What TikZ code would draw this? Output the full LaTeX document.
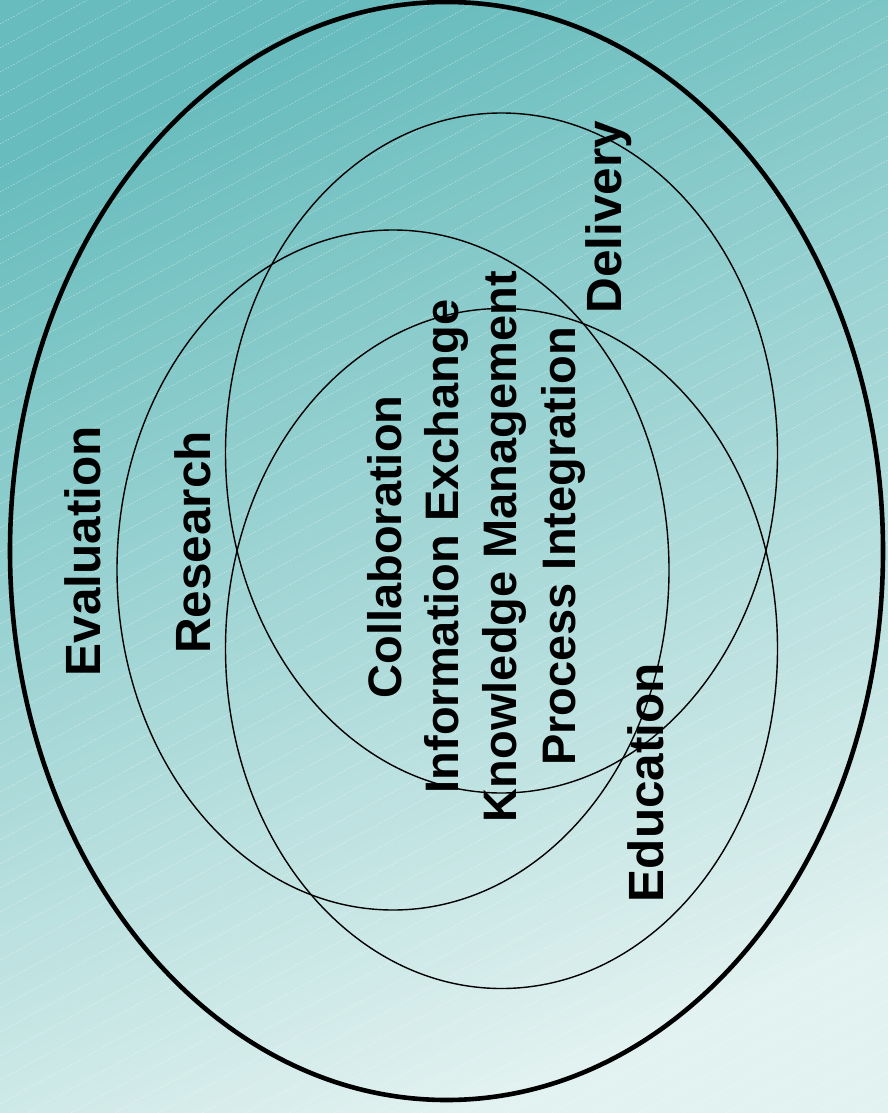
\documentclass[tikz,border=0pt]{standalone}
\usepackage{fontspec}
\setmainfont{Liberation Sans}
\usetikzlibrary{positioning}

\definecolor{tealtop}{RGB}{104,188,189}
\definecolor{tealbot}{RGB}{226,242,240}

\tikzset{
  ringthin/.style={draw=black, line width=1.4pt},
  ringthick/.style={draw=black, line width=4.6pt},
  stripe/.style={draw=white, opacity=0.45, line width=0.6pt, dash pattern=on 1.5pt off 1.5pt},
  sidelabel/.style={rotate=90, anchor=base, inner sep=0pt, font=\fontsize{49.5}{58}\selectfont\bfseries},
  corelabel/.style={rotate=90, anchor=base, inner sep=0pt, font=\fontsize{47}{56}\selectfont\bfseries},
}

\begin{document}
\begin{tikzpicture}[x=1pt, y=-1pt]
  \useasboundingbox (0,0) rectangle (888,1113);

  % background
  \shade[top color=tealtop, bottom color=tealbot, shading angle=22] (0,0) rectangle (888,1113);
  \begin{scope}
    \clip (0,0) rectangle (888,1113);
    \foreach \c in {0,24,...,1608} {
      \draw[stripe] (0,\c) -- (888,\c-488);
    }
  \end{scope}

  % rings
  \coordinate (outer) at (446.5,551);
  \coordinate (deliv) at (501.5,453);
  \coordinate (resea) at (393,570);
  \coordinate (educa) at (501.5,648.5);

  \draw[ringthick] (outer) ellipse [x radius=436.5, y radius=549];
  \draw[ringthin] (deliv) ellipse [x radius=276, y radius=340];
  \draw[ringthin] (resea) ellipse [x radius=276, y radius=340];
  \draw[ringthin] (educa) ellipse [x radius=276, y radius=340];

  % labels
  \node[sidelabel] (evaluation) at (100,551) {Evaluation};
  \node[sidelabel] (research) at (210.5,542.5) {Research};
  \node[sidelabel] (delivery) at (621.7,217) {Delivery};
  \node[sidelabel] (education) at (663.3,782.5) {Education};

  \node[corelabel] (collab) at (401.7,547) {Collaboration};
  \node[corelabel] (infoex) at (458,546.5) {Information Exchange};
  \node[corelabel] (knowman) at (516.7,546.5) {Knowledge Management};
  \node[corelabel] (procint) at (575,546.5) {Process Integration};
\end{tikzpicture}
\end{document}
